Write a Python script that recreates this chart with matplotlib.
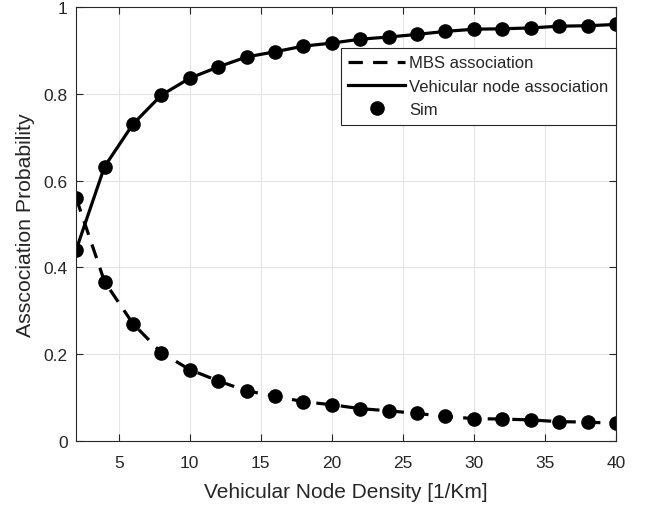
import matplotlib
matplotlib.use("Agg")
import matplotlib.pyplot as plt
from matplotlib.ticker import FixedLocator

plt.rcParams['font.family'] = ['Liberation Sans', 'DejaVu Sans']

density = [2, 4, 6, 8, 10, 12, 14, 16, 18, 20, 22, 24, 26, 28, 30, 32, 34, 36, 38, 40]
vehicular = [0.440, 0.632, 0.730, 0.797, 0.836, 0.862, 0.885, 0.897, 0.910, 0.917, 0.926, 0.931, 0.937, 0.944, 0.949, 0.950, 0.952, 0.956, 0.957, 0.960]
mbs = [0.560, 0.367, 0.270, 0.203, 0.164, 0.138, 0.115, 0.103, 0.090, 0.083, 0.074, 0.069, 0.063, 0.056, 0.051, 0.050, 0.048, 0.044, 0.043, 0.040]
sim_vehicular = vehicular
sim_mbs = mbs

xticks = [5, 10, 15, 20, 25, 30, 35, 40]
yticks = [0, 0.2, 0.4, 0.6, 0.8, 1]
ytick_labels = ['0', '0.2', '0.4', '0.6', '0.8', '1']

fig = plt.figure(figsize=(6.45, 5.06), dpi=100)
ax = fig.add_axes([0.118, 0.127, 0.837, 0.857])

txt = '#262626'
lw = 2.3
ax.plot(density, mbs, color='black', lw=lw, ls=(0, (4.5, 3.2)), label='MBS association')
ax.plot(density, vehicular, color='black', lw=lw, ls='-', label='Vehicular node association')
ax.plot(density, sim_mbs, 'o', color='black', ms=9.5, label='Sim')
ax.plot(density, sim_vehicular, 'o', color='black', ms=9.5)

ax.set_xlim(2, 40)
ax.set_ylim(0, 1)
ax.xaxis.set_major_locator(FixedLocator(xticks))
ax.set_yticks(yticks)
ax.set_yticklabels(ytick_labels)
ax.grid(True, color='#e3e3e3', lw=0.8)
ax.set_axisbelow(True)
ax.tick_params(direction='in', top=True, right=True, length=5, width=0.8,
               labelsize=12.5, colors=txt)
ax.tick_params(axis='x', pad=10)
ax.tick_params(axis='y', pad=6)
for s in ax.spines.values():
    s.set_color('#262626')
    s.set_linewidth(0.8)

ax.set_xlabel('Vehicular Node Density [1/Km]', fontsize=15, color=txt, labelpad=9)
ax.set_ylabel('Asscociation Probability', fontsize=15.3, color=txt, labelpad=6)

leg = ax.legend(loc='upper right', bbox_to_anchor=(1.0, 0.906), fontsize=12,
                frameon=True, fancybox=False, edgecolor='#262626', framealpha=1,
                borderpad=0.45, labelspacing=0.5, handlelength=3.4, handletextpad=0.25,
                borderaxespad=0)
leg.get_frame().set_linewidth(0.8)
for t in leg.get_texts():
    t.set_color(txt)

fig.savefig('out.png', dpi=100)
